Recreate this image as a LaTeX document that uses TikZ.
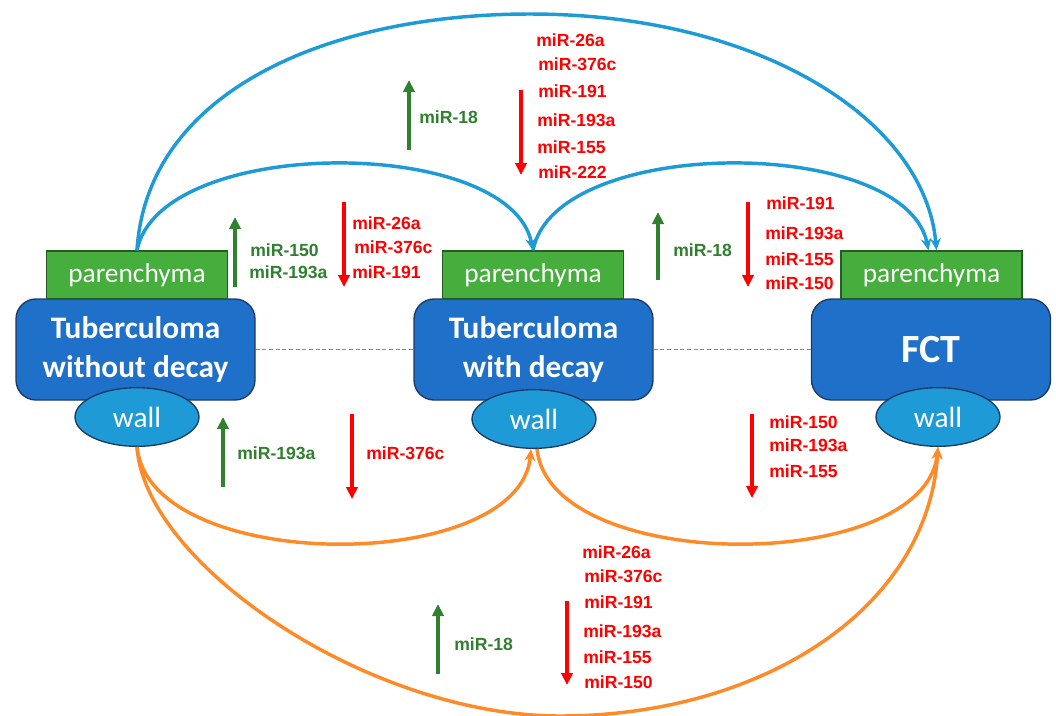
\documentclass[tikz,border=0pt]{standalone}
\usepackage{fontspec}
\setmainfont{Liberation Sans}
\newfontfamily\calibrifont{Carlito}
\usetikzlibrary{shapes.geometric,arrows.meta,calc}
\definecolor{boxblue}{RGB}{31,112,200}
\definecolor{boxedge}{RGB}{28,58,100}
\definecolor{parengreen}{RGB}{70,174,60}
\definecolor{parenedge}{RGB}{40,90,40}
\definecolor{wallblue}{RGB}{30,155,215}
\definecolor{arcblue}{RGB}{30,155,215}
\definecolor{arcorange}{RGB}{255,138,40}
\definecolor{mired}{RGB}{255,0,0}
\definecolor{migreen}{RGB}{48,128,48}
\definecolor{dashblue}{RGB}{60,160,225}
\newcommand\uparr[3]{\draw[uparrow] (#1,#2) -- (#1,#3);}
\newcommand\downarr[3]{\draw[downarrow] (#1,#2) -- (#1,#3);}
\begin{document}
\begin{tikzpicture}[x=0.75pt,y=-0.75pt,
  tbox/.style={draw=boxedge, line width=1pt, fill=boxblue, rounded corners=15pt,
    minimum width=179.25pt, minimum height=75.75pt, inner sep=0pt, text=white,
    font=\calibrifont\bfseries\fontsize{23.5}{29}\selectfont, align=center},
  paren/.style={draw=parenedge, line width=1pt, fill=parengreen,
    minimum width=135.75pt, minimum height=36pt, inner sep=0pt, text=white,
    font=\calibrifont\fontsize{20.5}{24}\selectfont},
  wallnode/.style={ellipse, draw=boxedge, line width=1pt, fill=wallblue,
    minimum width=93pt, minimum height=44pt, inner sep=0pt, text=white,
    font=\calibrifont\fontsize{22}{26}\selectfont},
  redlab/.style={anchor=west, text=mired, inner sep=0pt, text height=9.4pt, text depth=0pt,
    font=\bfseries\fontsize{13.2}{15}\selectfont},
  greenlab/.style={redlab, text=migreen},
  uparrow/.style={draw=migreen, line width=2.6pt, -{Triangle[length=9pt,width=8.5pt]}},
  downarrow/.style={draw=mired, line width=2.6pt, -{Triangle[length=9pt,width=8.5pt]}},
  bluearc/.style={draw=arcblue, line width=2.6pt, -{Stealth[length=9pt,width=8pt]}},
  orangearc/.style={draw=arcorange, line width=2.6pt, -{Stealth[length=9pt,width=8pt]}},
  dashline/.style={draw=dashblue, line width=1.2pt, dash pattern=on 3pt off 2pt}
]
\useasboundingbox (0,0) rectangle (1056,715);

% boxes
\node[tbox] (b1) at (135.5,349.5) {Tuberculoma\\without decay};
\node[paren] (p1) at (137,275) {parenchyma};
\node[wallnode] (w1) at (137,417) {wall};

\node[tbox] (b2) at (533.5,349.5) {Tuberculoma\\with decay};
\node[paren] (p2) at (533,275) {parenchyma};
\node[wallnode] (w2) at (534,419) {wall};

\node[tbox, font=\calibrifont\bfseries\fontsize{30}{34}\selectfont] (b3) at (931,349.5) {FCT};
\node[paren] (p3) at (931.5,275) {parenchyma};
\node[wallnode] (w3) at (938,417) {wall};

% dashed links
\draw[dashline] (b1.east) -- (b2.west);
\draw[dashline] (b2.east) -- (b3.west);

% blue arcs
\coordinate (p3a) at ($(p3.north)+(-3,0)$);
\coordinate (p3b) at ($(p3.north)+(5,0)$);
\draw[bluearc] (p1.north) .. controls (147,90) and (330,14) .. (530,14)
   .. controls (760,14) and (925,120) .. (p3b);
\draw[bluearc] (p1.north) .. controls (160,135) and (510,135) .. (p2.north);
\draw[bluearc] (p2.north) .. controls (555,135) and (905,135) .. (p3a);

% orange arcs
\coordinate (w2l) at ($(w2.south)+(-3,0)$);
\coordinate (w2r) at ($(w2.south)+(3,0)$);
\draw[orangearc] (w1.south) .. controls (150,575) and (520,575) .. (w2l);
\draw[orangearc] (w2r) .. controls (550,575) and (925,575) .. (w3.south);
\draw[orangearc] (w1.south) .. controls (145,565) and (370,716) .. (560,716)
   .. controls (760,716) and (928,610) .. (w3.south);

% top block
\uparr{409}{150}{80}
\node[greenlab] (t18) at (419,117) {miR-18};
\downarr{521}{90}{175}
\node[redlab] (ta) at (536,40) {miR-26a};
\node[redlab] (tb) at (538,64) {miR-376c};
\node[redlab] (tc) at (538,91) {miR-191};
\node[redlab] (td) at (537,120) {miR-193a};
\node[redlab] (te) at (537,147) {miR-155};
\node[redlab] (tf) at (538,172) {miR-222};

% left-middle upper
\uparr{235}{287}{217}
\node[greenlab] (la) at (250,250) {miR-150};
\node[greenlab] (lb) at (249,272) {miR-193a};
\downarr{344}{202}{287}
\node[redlab] (lc) at (352,223) {miR-26a};
\node[redlab] (ld) at (354,247) {miR-376c};
\node[redlab] (le) at (352,272) {miR-191};

% middle-right upper
\uparr{658}{280}{212}
\node[greenlab] (ma) at (673,250) {miR-18};
\downarr{748}{202}{287}
\node[redlab] (mb) at (766,203) {miR-191};
\node[redlab] (mc) at (765,233) {miR-193a};
\node[redlab] (md) at (765,259) {miR-155};
\node[redlab] (me) at (765,283) {miR-150};

% lower left
\uparr{223}{487}{417}
\node[greenlab] (na) at (237,453) {miR-193a};
\downarr{352}{414}{499}
\node[redlab] (nb) at (366,453) {miR-376c};

% lower right
\downarr{752}{414}{498}
\node[redlab] (ra) at (769,422) {miR-150};
\node[redlab] (rb) at (769,445) {miR-193a};
\node[redlab] (rc) at (769,471) {miR-155};

% bottom block
\uparr{438}{674}{604}
\node[greenlab] (bb18) at (454,644) {miR-18};
\downarr{567}{601}{685}
\node[redlab] (ba) at (582,552) {miR-26a};
\node[redlab] (bb) at (584,576) {miR-376c};
\node[redlab] (bc) at (584,602) {miR-191};
\node[redlab] (bd) at (583,631) {miR-193a};
\node[redlab] (be) at (583,657) {miR-155};
\node[redlab] (bf) at (584,682) {miR-150};
\end{tikzpicture}
\end{document}
